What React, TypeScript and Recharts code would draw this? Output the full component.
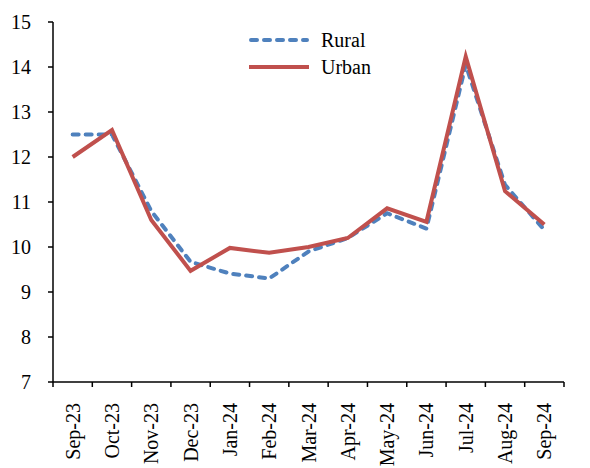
import { LineChart, Line, XAxis, YAxis, Legend } from "recharts";

const months = [
  "Sep-23", "Oct-23", "Nov-23", "Dec-23", "Jan-24", "Feb-24", "Mar-24",
  "Apr-24", "May-24", "Jun-24", "Jul-24", "Aug-24", "Sep-24",
];
const rural = [12.5, 12.5, 10.8, 9.67, 9.41, 9.3, 9.9, 10.2, 10.75, 10.41, 14.05, 11.38, 10.38];
const urban = [12.0, 12.6, 10.6, 9.47, 9.98, 9.87, 10.0, 10.2, 10.86, 10.56, 14.23, 11.24, 10.5];
const yTicks = [7, 8, 9, 10, 11, 12, 13, 14, 15];

const data = months.map((m, i) => ({ month: m, Rural: rural[i], Urban: urban[i] }));

const W = 590;
const H = 468;
const M = { top: 22, right: 26, bottom: 6, left: 0 };
const Y_W = 53;
const BAND = (W - M.left - M.right - Y_W) / months.length;
const FONT = "Liberation Serif, Times New Roman, serif";
const BLUE = "#4F81BD";
const RED = "#C0504D";

const MonthTick = (props: any) => {
  const { x, y, payload, index } = props;
  const last = index === months.length - 1;
  return (
    <g>
      <line x1={x - BAND / 2} x2={x - BAND / 2} y1={y - 5} y2={y} stroke="#000" strokeWidth={1.5} />
      {last && (
        <line x1={x + BAND / 2} x2={x + BAND / 2} y1={y - 5} y2={y} stroke="#000" strokeWidth={1.5} />
      )}
      <text
        x={x + 7}
        y={y + 16}
        transform={`rotate(-90, ${x + 7}, ${y + 16})`}
        textAnchor="end"
        fontFamily={FONT}
        fontSize={20}
        fill="#000"
      >
        {payload.value}
      </text>
    </g>
  );
};

const LegendBox = () => (
  <svg width={160} height={60}>
    <line x1={4} x2={60} y1={12} y2={12} stroke={BLUE} strokeWidth={4} strokeDasharray="6 7" strokeLinecap="round" />
    <text x={74} y={19} fontFamily={FONT} fontSize={20} fill="#000">Rural</text>
    <line x1={2} x2={62} y1={39} y2={39} stroke={RED} strokeWidth={4} />
    <text x={74} y={46} fontFamily={FONT} fontSize={20} fill="#000">Urban</text>
  </svg>
);

export default function App() {
  return (
    <div style={{ position: "absolute", left: 0, top: 0, background: "#fff" }}>
      <LineChart width={W} height={H} data={data} margin={M}>
        <XAxis
          dataKey="month"
          interval={0}
          height={80}
          padding={{ left: BAND / 2, right: BAND / 2 }}
          axisLine={{ stroke: "#000", strokeWidth: 1.5 }}
          tickLine={false}
          tickSize={5}
          tickMargin={0}
          tick={<MonthTick />}
        />
        <YAxis
          domain={[7, 15]}
          ticks={yTicks}
          width={Y_W}
          interval={0}
          axisLine={{ stroke: "#000", strokeWidth: 1.5 }}
          tickLine={{ stroke: "#000", strokeWidth: 1.5 }}
          tickSize={5}
          tickMargin={17}
          tick={{ fill: "#000", fontFamily: FONT, fontSize: 20 }}
        />
        <Legend
          layout="horizontal"
          verticalAlign="middle"
          align="center"
          content={<LegendBox />}
          wrapperStyle={{ position: "absolute", top: 28, left: 247, width: 160, height: 60 }}
        />
        <Line
          dataKey="Rural"
          stroke={BLUE}
          strokeWidth={4}
          strokeDasharray="6 7"
          strokeLinecap="round"
          dot={false}
          activeDot={false}
          isAnimationActive={false}
        />
        <Line
          dataKey="Urban"
          stroke={RED}
          strokeWidth={4}
          dot={false}
          activeDot={false}
          isAnimationActive={false}
        />
      </LineChart>
    </div>
  );
}
